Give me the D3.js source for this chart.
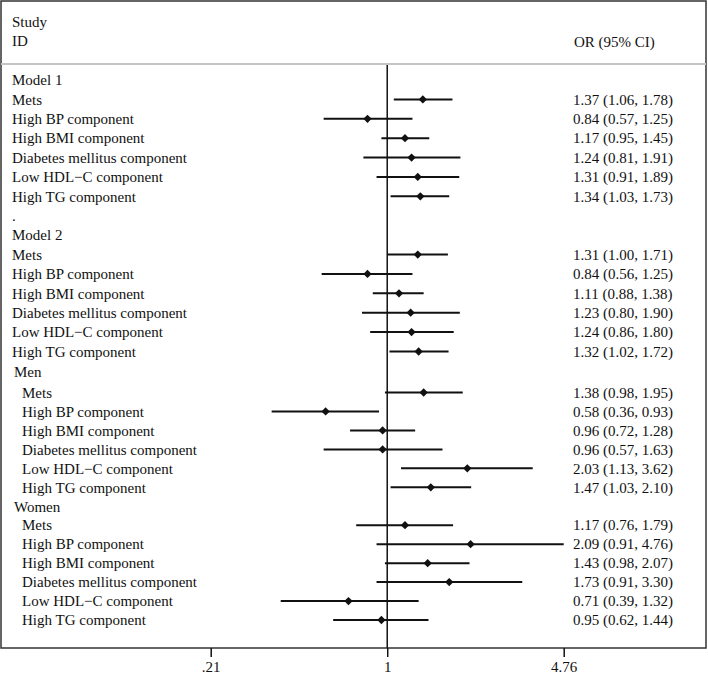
<!DOCTYPE html>
<html><head><meta charset="utf-8">
<script src="https://cdn.jsdelivr.net/npm/d3@7"></script>
<style>body{margin:0;background:#fff}svg{display:block}text{font-family:"Liberation Serif","Times New Roman",serif;font-size:15px;fill:#111}</style>
</head><body>
<script>
const groups = ["Model 1", "Model 2", "Men", "Women"];
const components = ["Mets", "High BP component", "High BMI component", "Diabetes mellitus component", "Low HDL\u2212C component", "High TG component"];
const orModel1 = [1.37, 0.84, 1.17, 1.24, 1.31, 1.34];
const loModel1 = [1.06, 0.57, 0.95, 0.81, 0.91, 1.03];
const hiModel1 = [1.78, 1.25, 1.45, 1.91, 1.89, 1.73];
const orModel2 = [1.31, 0.84, 1.11, 1.23, 1.24, 1.32];
const loModel2 = [1.00, 0.56, 0.88, 0.80, 0.86, 1.02];
const hiModel2 = [1.71, 1.25, 1.38, 1.90, 1.80, 1.72];
const orMen = [1.38, 0.58, 0.96, 0.96, 2.03, 1.47];
const loMen = [0.98, 0.36, 0.72, 0.57, 1.13, 1.03];
const hiMen = [1.95, 0.93, 1.28, 1.63, 3.62, 2.10];
const orWomen = [1.17, 2.09, 1.43, 1.73, 0.71, 0.95];
const loWomen = [0.76, 0.91, 0.98, 0.91, 0.39, 0.62];
const hiWomen = [1.79, 4.76, 2.07, 3.30, 1.32, 1.44];
const tickValues = [0.21, 1, 4.76];
const tickLabels = [".21", "1", "4.76"];

const W = 708, H = 676;
const svg = d3.select("body").append("svg").attr("width", W).attr("height", H);

// build rows
const series = [
  {name: groups[0], or: orModel1, lo: loModel1, hi: hiModel1, indent: false},
  {name: groups[1], or: orModel2, lo: loModel2, hi: hiModel2, indent: false},
  {name: groups[2], or: orMen, lo: loMen, hi: hiMen, indent: true},
  {name: groups[3], or: orWomen, lo: loWomen, hi: hiWomen, indent: true}
];
const rows = [];
let r = 0;
series.forEach((s, gi) => {
  rows.push({type: "header", label: s.name, row: r++, indent: s.indent});
  components.forEach((c, i) => {
    rows.push({type: "item", label: c, row: r++, or: s.or[i], lo: s.lo[i], hi: s.hi[i], indent: s.indent});
  });
  if (gi === 0) rows.push({type: "header", label: ".", row: r++, indent: false});
});

const x = d3.scaleLog().domain([0.21, 4.76]).range([210.7, 563.7]);
const y = d3.scaleLinear().domain([0, 14, 16, 28]).range([80, 351.5, 392.5, 620]);

const frameTop = 1, frameBottom = 648, frameLeft = 1, frameRight = 706, sepY = 64;

// frame
svg.append("rect").attr("x", frameLeft).attr("y", frameTop)
  .attr("width", frameRight - frameLeft).attr("height", frameBottom - frameTop)
  .attr("fill", "none").attr("stroke", "#333").attr("stroke-width", 1.5);
svg.append("line").attr("x1", frameLeft).attr("x2", frameRight).attr("y1", sepY).attr("y2", sepY)
  .attr("stroke", "#c4c4c4").attr("stroke-width", 2);

// header texts
svg.append("text").attr("x", 12).attr("y", 22).attr("dy", "0.35em").text("Study");
svg.append("text").attr("x", 12).attr("y", 41).attr("dy", "0.35em").text("ID");
svg.append("text").attr("x", 574).attr("y", 42).attr("dy", "0.35em").text("OR (95% CI)");

// null line
svg.append("line").attr("x1", x(1)).attr("x2", x(1)).attr("y1", sepY + 1).attr("y2", frameBottom)
  .attr("stroke", "#111").attr("stroke-width", 1.5);

// labels
svg.selectAll("text.lab").data(rows).join("text").attr("class", "lab")
  .attr("x", d => d.indent ? (d.type === "header" ? 14 : 22) : 12)
  .attr("y", d => y(d.row)).attr("dy", "0.35em").text(d => d.label);

const items = rows.filter(d => d.type === "item");
svg.selectAll("line.ci").data(items).join("line").attr("class", "ci")
  .attr("x1", d => x(d.lo)).attr("x2", d => x(d.hi))
  .attr("y1", d => y(d.row)).attr("y2", d => y(d.row))
  .attr("stroke", "#111").attr("stroke-width", 2);
svg.selectAll("path.pt").data(items).join("path").attr("class", "pt")
  .attr("d", d3.symbol(d3.symbolDiamond2, 44))
  .attr("transform", d => `translate(${x(d.or)},${y(d.row)})`)
  .attr("fill", "#111");
svg.selectAll("text.val").data(items).join("text").attr("class", "val")
  .attr("x", 573).attr("y", d => y(d.row)).attr("dy", "0.35em")
  .text(d => `${d.or.toFixed(2)} (${d.lo.toFixed(2)}, ${d.hi.toFixed(2)})`);

// axis
const axis = d3.axisBottom(x).tickValues(tickValues).tickFormat((d, i) => tickLabels[i]).tickSize(9).tickPadding(4);
const g = svg.append("g").attr("transform", `translate(0,${frameBottom})`).call(axis);
g.select(".domain").remove();
g.selectAll(".tick line").attr("stroke", "#111").attr("stroke-width", 1.5);
g.selectAll(".tick text").style("font-family", '"Liberation Serif","Times New Roman",serif').style("font-size", "15px").attr("fill", "#111");
</script>
</body></html>
